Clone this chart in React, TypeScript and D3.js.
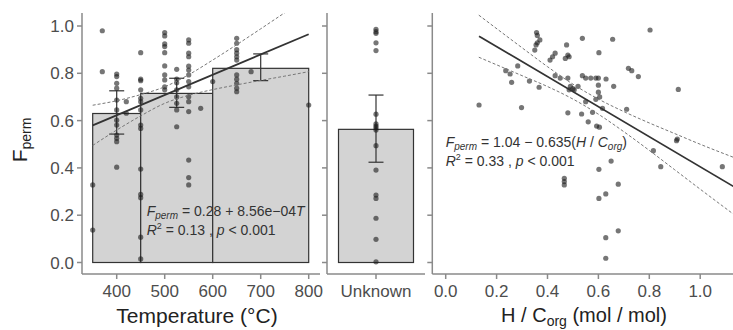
import React from 'react';
import * as d3 from 'd3';

// Temperature bins (°C) with mean F_perm and error bar limits
const binStart = [350, 450, 600];
const binEnd = [450, 600, 800];
const binMean = [0.63, 0.715, 0.821];
const binErrLow = [0.543, 0.656, 0.769];
const binErrHigh = [0.726, 0.779, 0.882];

// Individual samples: [temperature, F_perm]
const tempPoints: [number, number][] = [
  [350, 0.328], [350, 0.137], [370, 0.98], [370, 0.807],
  [400, 0.797], [400, 0.786], [400, 0.758], [400, 0.737], [400, 0.687], [400, 0.645],
  [400, 0.602], [400, 0.581], [400, 0.539], [400, 0.525], [400, 0.511], [400, 0.403],
  [420, 0.68], [420, 0.631],
  [450, 0.887], [450, 0.775], [450, 0.769], [450, 0.73], [450, 0.694], [450, 0.68],
  [450, 0.645], [450, 0.581], [450, 0.567], [450, 0.395], [450, 0.288], [450, 0.274],
  [450, 0.107], [450, 0.015],
  [500, 0.972], [500, 0.958], [500, 0.924], [500, 0.913], [500, 0.887], [500, 0.831],
  [500, 0.793], [500, 0.772], [500, 0.743], [500, 0.73],
  [525, 0.817], [525, 0.775], [525, 0.76], [525, 0.73], [525, 0.7], [525, 0.673],
  [525, 0.645], [525, 0.574],
  [550, 0.941], [550, 0.927], [550, 0.885], [550, 0.87], [550, 0.83], [550, 0.814],
  [550, 0.793], [550, 0.765], [550, 0.743], [550, 0.701], [550, 0.68], [550, 0.638],
  [550, 0.433], [550, 0.359], [550, 0.328],
  [575, 0.652], [600, 0.765],
  [650, 0.948], [650, 0.927], [650, 0.9], [650, 0.885], [650, 0.87], [650, 0.856],
  [650, 0.793], [650, 0.775], [650, 0.758], [650, 0.737], [650, 0.722],
  [680, 0.807], [800, 0.666],
];

// Fit F = 0.28 + 8.56e-4 T and its confidence band
const tempFitT = [350, 800];
const tempFitF = [0.58, 0.965];
const tempBandT = [350, 400, 450, 500, 550, 600, 650, 700, 750, 800];
const tempBandLow = [0.495, 0.56, 0.62, 0.673, 0.707, 0.731, 0.751, 0.77, 0.788, 0.807];
const tempBandHigh = [0.665, 0.684, 0.71, 0.743, 0.794, 0.856, 0.921, 0.988, 1.056, 1.123];

// Unknown temperature group
const unknownCategory = ['Unknown'];
const unknownMean = 0.563;
const unknownErrLow = 0.424;
const unknownErrHigh = 0.708;
const unknownPoints = [0.986, 0.976, 0.969, 0.929, 0.896, 0.627, 0.586, 0.577, 0.569, 0.56,
  0.494, 0.391, 0.285, 0.271, 0.187, 0.098, 0.003];

// H/C_org vs F_perm: [H/C, F_perm]
const hcPoints: [number, number][] = [
  [0.357, 0.972], [0.36, 0.96], [0.37, 0.941], [0.36, 0.929], [0.355, 0.92], [0.35, 0.898],
  [0.475, 0.92], [0.537, 0.948], [0.656, 0.944], [0.803, 0.983], [0.602, 0.887],
  [0.48, 0.877], [0.485, 0.87], [0.47, 0.863], [0.43, 0.885], [0.42, 0.87], [0.41, 0.856],
  [0.283, 0.831], [0.236, 0.811], [0.253, 0.797], [0.259, 0.762], [0.329, 0.767], [0.367, 0.741],
  [0.43, 0.79], [0.45, 0.78], [0.48, 0.78], [0.49, 0.745], [0.5, 0.735], [0.52, 0.745],
  [0.505, 0.73], [0.485, 0.73], [0.537, 0.79], [0.55, 0.78], [0.57, 0.78], [0.59, 0.78],
  [0.6, 0.78], [0.63, 0.776], [0.66, 0.745], [0.6, 0.75], [0.6, 0.72], [0.605, 0.7],
  [0.59, 0.69], [0.55, 0.68], [0.718, 0.821], [0.731, 0.811], [0.757, 0.786], [0.914, 0.732],
  [0.131, 0.666], [0.298, 0.655], [0.616, 0.652], [0.711, 0.648], [0.48, 0.633],
  [0.534, 0.628], [0.56, 0.595], [0.577, 0.635], [0.593, 0.577], [0.604, 0.572],
  [0.907, 0.515], [0.91, 0.522], [0.816, 0.473], [0.845, 0.405], [1.087, 0.405],
  [0.65, 0.429], [0.602, 0.394], [0.466, 0.356], [0.466, 0.342], [0.466, 0.328],
  [0.678, 0.331], [0.629, 0.29], [0.602, 0.271], [0.678, 0.134], [0.629, 0.105], [0.629, 0.018],
];

// Fit F = 1.04 - 0.635 H/C and its confidence band
const hcFitX = [0.131, 1.13];
const hcFitF = [0.957, 0.322];
const hcBandX = [0.13, 0.3, 0.4, 0.5, 0.6, 0.7, 0.8, 0.9, 1.0, 1.13];
const hcBandLow = [0.868, 0.79, 0.744, 0.691, 0.627, 0.553, 0.474, 0.392, 0.31, 0.205];
const hcBandHigh = [1.046, 0.908, 0.828, 0.754, 0.691, 0.638, 0.59, 0.545, 0.5, 0.445];

const yTicks = [0, 0.2, 0.4, 0.6, 0.8, 1.0];
const tempTicks = [400, 500, 600, 700, 800];
const hcTicks = [0, 0.2, 0.4, 0.6, 0.8, 1.0];

const FONT = '"Liberation Sans", Arial, sans-serif';
const AXIS = '#8a8a8a';
const INK = '#333';
const TICK_TXT = '#4d4d4d';

export default function App() {
  const top = 13, bottom = 274;
  const y = d3.scaleLinear().domain([0, 1]).range([262.5, 26]);
  const xT = d3.scaleLinear().domain([350, 800]).range([92.7, 308.7]);
  const xU = d3.scaleBand().domain(unknownCategory).range([327, 425]).padding(0.133);
  const xH = d3.scaleLinear().domain([0, 1]).range([445.7, 700.2]);

  const p1 = { x0: 82, x1: 320 };
  const p2 = { x0: 327, x1: 425 };
  const p3 = { x0: 432.3, x1: 733 };

  const lineT = d3.line<number>().x((_, i) => xT(tempBandT[i])).curve(d3.curveMonotoneX);
  const lineH = d3.line<number>().x((_, i) => xH(hcBandX[i])).curve(d3.curveMonotoneX);

  const yAxis = (x0: number, labels: boolean) => (
    <g>
      <line x1={x0} x2={x0} y1={top} y2={bottom} stroke={AXIS} strokeWidth={1.5} />
      {yTicks.map(t => (
        <g key={t}>
          <line x1={x0 - 5} x2={x0} y1={y(t)} y2={y(t)} stroke={AXIS} strokeWidth={1.5} />
          {labels && (
            <text x={x0 - 8} y={y(t)} dy="0.36em" textAnchor="end" fontSize={17} fill={TICK_TXT}>
              {d3.format('.1f')(t)}
            </text>
          )}
        </g>
      ))}
    </g>
  );

  const xAxisLine = (x0: number, x1: number) => (
    <line x1={x0} x2={x1} y1={bottom} y2={bottom} stroke={AXIS} strokeWidth={1.5} />
  );

  const dot = (cx: number, cy: number, k: string) => (
    <circle key={k} cx={cx} cy={cy} r={2.6} fill="#1a1a1a" fillOpacity={0.6} />
  );

  const errBar = (cx: number, lo: number, hi: number, k: string) => (
    <g key={k} stroke={INK} strokeWidth={1.2}>
      <line x1={cx} x2={cx} y1={y(lo)} y2={y(hi)} />
      <line x1={cx - 7.5} x2={cx + 7.5} y1={y(lo)} y2={y(lo)} />
      <line x1={cx - 7.5} x2={cx + 7.5} y1={y(hi)} y2={y(hi)} />
    </g>
  );

  const uCx = (xU('Unknown') as number) + xU.bandwidth() / 2;

  return (
    <svg width={733} height={330} style={{ position: 'absolute', left: 0, top: 0, fontFamily: FONT }}>
      <rect width={733} height={330} fill="#fff" />
      <defs>
        <clipPath id="c1"><rect x={p1.x0} y={top} width={p1.x1 - p1.x0} height={bottom - top} /></clipPath>
        <clipPath id="c3"><rect x={p3.x0} y={top} width={p3.x1 - p3.x0} height={bottom - top} /></clipPath>
      </defs>

      {/* Panel 1: temperature */}
      <g>
        {binStart.map((s, i) => (
          <rect key={i} x={xT(s)} y={y(binMean[i])} width={xT(binEnd[i]) - xT(s)}
            height={y(0) - y(binMean[i])} fill="#d3d3d3" stroke={INK} strokeWidth={1.2} />
        ))}
        {binStart.map((s, i) => errBar(xT((s + binEnd[i]) / 2), binErrLow[i], binErrHigh[i], 'e' + i))}
        {tempPoints.map((d, i) => dot(xT(d[0]), y(d[1]), 't' + i))}
        <g clipPath="url(#c1)">
          <path d={lineT.y(v => y(v))(tempBandLow) || ''} fill="none" stroke="#777" strokeWidth={1} strokeDasharray="3,2" />
          <path d={lineT.y(v => y(v))(tempBandHigh) || ''} fill="none" stroke="#777" strokeWidth={1} strokeDasharray="3,2" />
          <line x1={xT(tempFitT[0])} x2={xT(tempFitT[1])} y1={y(tempFitF[0])} y2={y(tempFitF[1])}
            stroke={INK} strokeWidth={1.8} />
        </g>
        <text x={146.7} y={215.5} fontSize={14} fill={INK}>
          <tspan fontStyle="italic">F</tspan>
          <tspan fontStyle="italic" fontSize={10} dy={3}>perm</tspan>
          <tspan dy={-3}> = 0.28 + 8.56e−04</tspan>
          <tspan fontStyle="italic">T</tspan>
        </text>
        <text x={146.7} y={235} fontSize={14} fill={INK}>
          <tspan fontStyle="italic">R</tspan>
          <tspan fontSize={9} dy={-6}>2</tspan>
          <tspan dy={6}> = 0.13 , </tspan>
          <tspan fontStyle="italic">p</tspan>
          <tspan> &lt; 0.001</tspan>
        </text>
        {yAxis(p1.x0, true)}
        {xAxisLine(p1.x0, p1.x1)}
        {tempTicks.map(t => (
          <g key={t}>
            <line x1={xT(t)} x2={xT(t)} y1={bottom} y2={bottom + 5} stroke={AXIS} strokeWidth={1.5} />
            <text x={xT(t)} y={297} textAnchor="middle" fontSize={17} fill={TICK_TXT}>{t}</text>
          </g>
        ))}
        <text x={197} y={323} textAnchor="middle" fontSize={21} fill="#222">Temperature (°C)</text>
      </g>

      {/* Panel 2: unknown temperature */}
      <g>
        <rect x={xU('Unknown')} y={y(unknownMean)} width={xU.bandwidth()} height={y(0) - y(unknownMean)}
          fill="#d3d3d3" stroke={INK} strokeWidth={1.2} />
        {errBar(uCx, unknownErrLow, unknownErrHigh, 'eu')}
        {unknownPoints.map((v, i) => dot(uCx, y(v), 'u' + i))}
        {yAxis(p2.x0, false)}
        {xAxisLine(p2.x0, p2.x1)}
        <line x1={uCx} x2={uCx} y1={bottom} y2={bottom + 5} stroke={AXIS} strokeWidth={1.5} />
        <text x={uCx} y={297} textAnchor="middle" fontSize={17} fill={TICK_TXT}>Unknown</text>
      </g>

      {/* Panel 3: H/C_org */}
      <g>
        {hcPoints.map((d, i) => dot(xH(d[0]), y(d[1]), 'h' + i))}
        <g clipPath="url(#c3)">
          <path d={lineH.y(v => y(v))(hcBandLow) || ''} fill="none" stroke="#777" strokeWidth={1} strokeDasharray="3,2" />
          <path d={lineH.y(v => y(v))(hcBandHigh) || ''} fill="none" stroke="#777" strokeWidth={1} strokeDasharray="3,2" />
          <line x1={xH(hcFitX[0])} x2={xH(hcFitX[1])} y1={y(hcFitF[0])} y2={y(hcFitF[1])}
            stroke={INK} strokeWidth={1.8} />
        </g>
        <text x={445.7} y={147} fontSize={14} fill={INK}>
          <tspan fontStyle="italic">F</tspan>
          <tspan fontStyle="italic" fontSize={10} dy={3}>perm</tspan>
          <tspan dy={-3}> = 1.04 − 0.635(</tspan>
          <tspan fontStyle="italic">H</tspan>
          <tspan> / </tspan>
          <tspan fontStyle="italic">C</tspan>
          <tspan fontStyle="italic" fontSize={10} dy={3}>org</tspan>
          <tspan dy={-3}>)</tspan>
        </text>
        <text x={445.7} y={166} fontSize={14} fill={INK}>
          <tspan fontStyle="italic">R</tspan>
          <tspan fontSize={9} dy={-6}>2</tspan>
          <tspan dy={6}> = 0.33 , </tspan>
          <tspan fontStyle="italic">p</tspan>
          <tspan> &lt; 0.001</tspan>
        </text>
        {yAxis(p3.x0, false)}
        {xAxisLine(p3.x0, p3.x1)}
        {hcTicks.map(t => (
          <g key={t}>
            <line x1={xH(t)} x2={xH(t)} y1={bottom} y2={bottom + 5} stroke={AXIS} strokeWidth={1.5} />
            <text x={xH(t)} y={297} textAnchor="middle" fontSize={17} fill={TICK_TXT}>{d3.format('.1f')(t)}</text>
          </g>
        ))}
        <text x={584} y={322} textAnchor="middle" fontSize={20} fill="#222">
          <tspan>H / C</tspan>
          <tspan fontSize={14} dy={4}>org</tspan>
          <tspan dy={-4}> (mol / mol)</tspan>
        </text>
      </g>

      {/* Shared y-axis title */}
      <text transform="translate(27,140) rotate(-90)" textAnchor="middle" fontSize={21} fill="#222">
        <tspan>F</tspan>
        <tspan fontSize={14} dy={4}>perm</tspan>
      </text>
    </svg>
  );
}
